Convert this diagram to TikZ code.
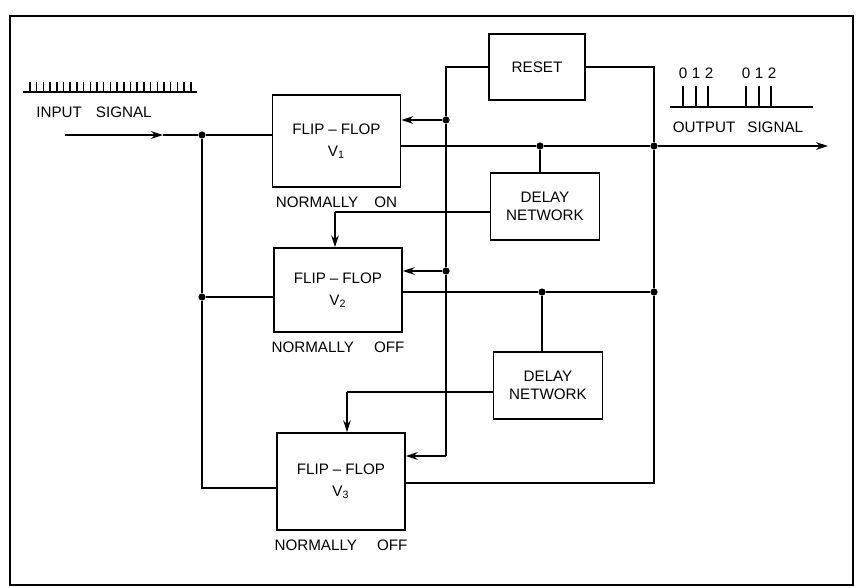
\documentclass[tikz,border=0pt]{standalone}
\usepackage{fontspec}
\setmainfont{Liberation Sans}
\usetikzlibrary{arrows.meta, positioning}
\tikzset{box/.style={rectangle,draw,align=center,inner sep=2pt,minimum width=64pt},delaybox/.style={rectangle,draw,align=center,inner sep=2pt,minimum width=54.5pt,minimum height=33.5pt},dot/.style={circle,fill,inner sep=0pt,minimum size=3.6pt},caption/.style={inner sep=1pt},line/.style={-{Stealth[length=6pt,width=3.8pt]}}}

\begin{document}
\begin{tikzpicture}[x=0.5pt,y=-0.5pt,line width=0.75pt,font=\fontsize{7.6}{9}\selectfont]
\useasboundingbox (0,0) rectangle (861,588);
\draw[line width=1.2pt] (10,16) rectangle (853,585);
\node[box, minimum height=46pt] (ff1) at (336.5,141) {FLIP\hspace{2pt}--\hspace{2pt}FLOP\\[2pt]V\textsubscript{1}};
\node[box, minimum height=42pt] (ff2) at (338,290) {FLIP\hspace{2pt}--\hspace{2pt}FLOP\\[2pt]V\textsubscript{2}};
\node[box, minimum height=48.5pt] (ff3) at (341,481.5) {FLIP\hspace{2pt}--\hspace{2pt}FLOP\\[2pt]V\textsubscript{3}};
\node[caption, below=3pt of ff1] (n1) {NORMALLY\hspace{8pt}ON};
\node[caption, below=3pt of ff2] (n2) {NORMALLY\hspace{10pt}OFF};
\node[caption, below=3pt of ff3] (n3) {NORMALLY\hspace{10pt}OFF};
\node[box, minimum width=48pt, minimum height=33pt] (reset) at (537,67) {RESET};
\node[delaybox] (delay1) at (545,206.5) {DELAY\\NETWORK};
\node[delaybox] (delay2) at (548,385.5) {DELAY\\NETWORK};
\node[dot] (j1) at (202,135) {};
\node[dot] (j2) at (202,297) {};
\node[dot] (r1) at (446,120) {};
\node[dot] (r2) at (446,271) {};
\node[dot] (d1) at (540,146) {};
\node[dot] (d2) at (542,292) {};
\node[dot] (o1) at (654,146) {};
\node[dot] (o2) at (654,292) {};
\coordinate (in) at (65,135);
\coordinate (inarr) at (163,135);
\coordinate (j3) at (202,488);
\coordinate (r3) at (446,456);
\coordinate (o3) at (654,483);
\coordinate (out) at (828,146);
\coordinate (k1) at (335,212);
\coordinate (k2) at (347,392);
\draw[line] (in) -- (inarr);
\draw (inarr) -- (j1) -- (j1 -| ff1.west);
\draw (j1) -- (j2) -- (j2 -| ff2.west);
\draw (j2) -- (j3) -- (j3 -| ff3.west);
\draw (reset.west) -| (r1) -- (r2) -- (r3);
\draw[line] (r1) -- (r1 -| ff1.east);
\draw[line] (r2) -- (r2 -| ff2.east);
\draw[line] (r3) -- (r3 -| ff3.east);
\draw (reset.east) -| (o1);
\draw (ff1.east |- d1) -- (d1) -- (o1);
\draw[line] (o1) -- (out);
\draw (d1) -- (d1 |- delay1.north);
\draw (delay1.west |- k1) -- (k1);
\draw[line] (k1) -- (k1 |- ff2.north);
\draw (ff2.east |- d2) -- (d2) -- (o2);
\draw (d2) -- (d2 |- delay2.north);
\draw (delay2.west |- k2) -- (k2);
\draw[line] (k2) -- (k2 |- ff3.north);
\draw (ff3.east |- o3) -- (o3) -- (o2) -- (o1);
\draw (23,92) -- (197,92);
\foreach \x in {0,...,24} \draw ({30+\x*6.7},82) -- ({30+\x*6.7},92);
\node (insig) at (94,112) {INPUT\hspace{7pt}SIGNAL};
\draw (670,107) -- (813,107);
\foreach \x in {683,696,708,746,759,771} \draw (\x,86) -- (\x,107);
\foreach \x/\d in {683/0,696/1,709/2,746/0,759/1,772/2} \node (dig\x) at (\x,73) {\d};
\node (outsig) at (738,127) {OUTPUT\hspace{6pt}SIGNAL};
\end{tikzpicture}
\end{document}
